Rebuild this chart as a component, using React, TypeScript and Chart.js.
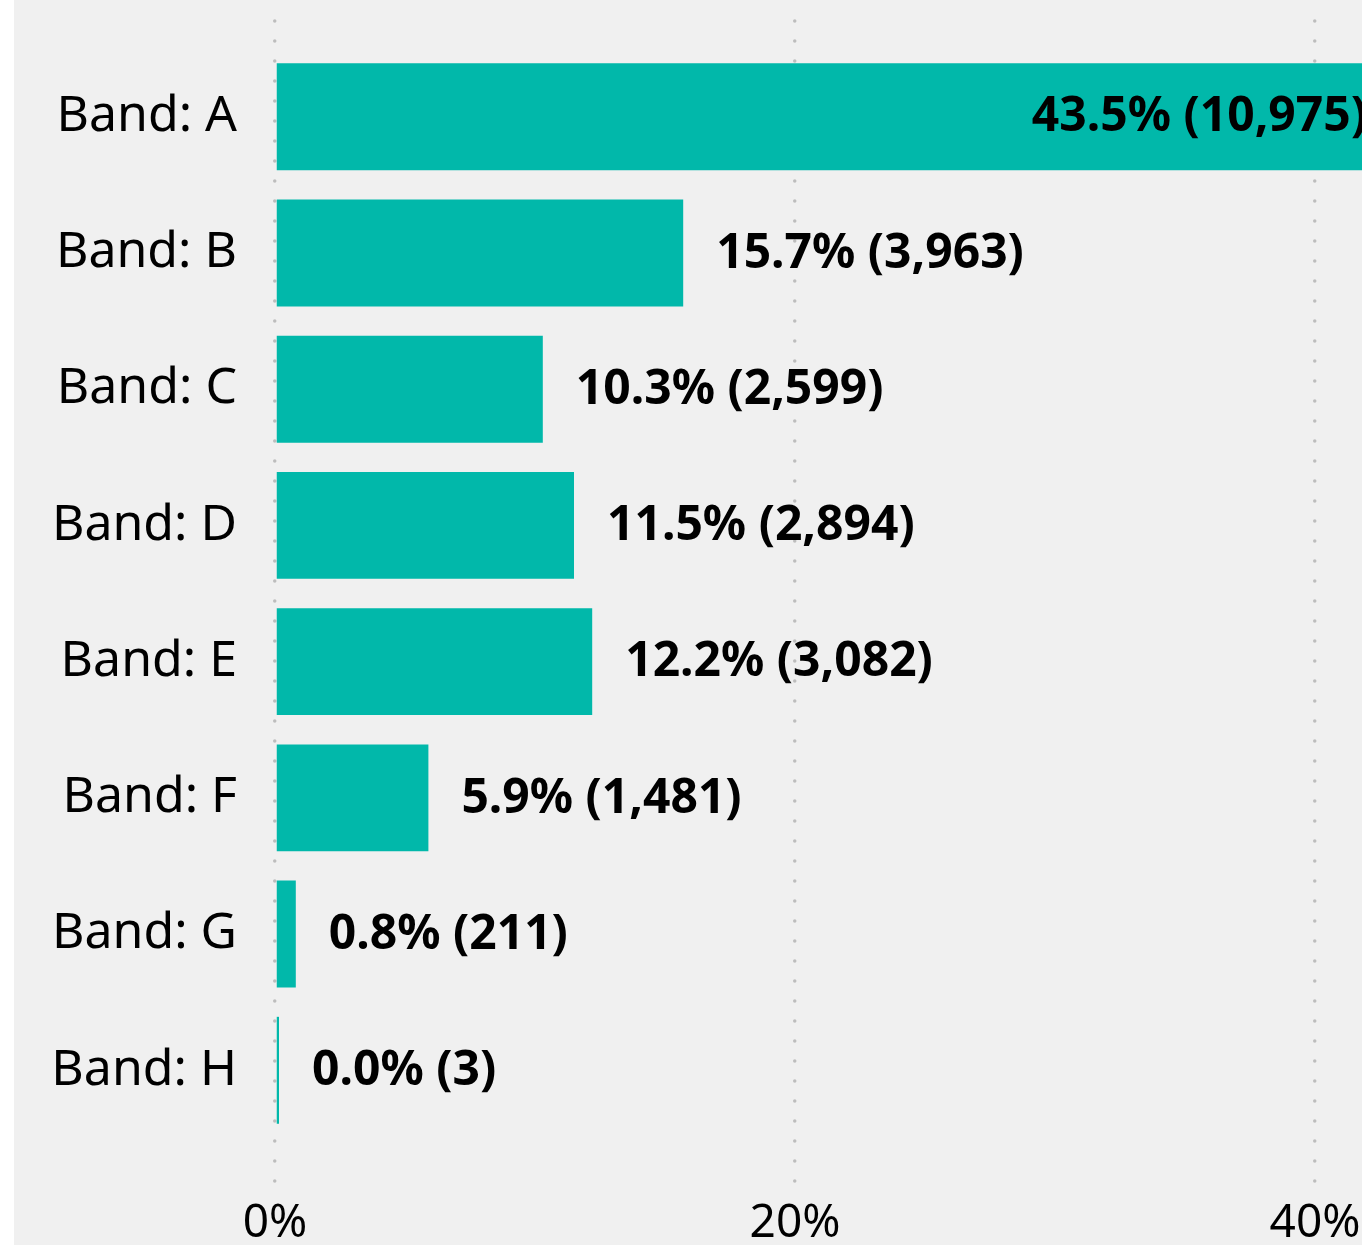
import React, { useEffect, useRef } from "react";
import { Chart, registerables } from "chart.js";

Chart.register(...registerables);

const categories = ["Band: A", "Band: B", "Band: C", "Band: D", "Band: E", "Band: F", "Band: G", "Band: H"];
const percentValues = [43.5, 15.7, 10.3, 11.5, 12.2, 5.9, 0.8, 0.0];
const countValues = [10975, 3963, 2599, 2894, 3082, 1481, 211, 3];
const xTickValues = [0, 20, 40];

const FONT = '"Noto Sans", "Open Sans", sans-serif';
const BAR_COLOR = "#01B8AA";

const labelPlugin = {
  id: "barLabels",
  afterDatasetsDraw(chart: any) {
    const ctx = chart.ctx;
    const meta = chart.getDatasetMeta(0);
    ctx.save();
    ctx.font = `bold 48px ${FONT}`;
    ctx.fillStyle = "#000";
    ctx.textBaseline = "middle";
    meta.data.forEach((bar: any, i: number) => {
      const text = `${percentValues[i].toFixed(1)}% (${countValues[i].toLocaleString("en-US")})`;
      const w = ctx.measureText(text).width;
      const gap = 33;
      const inside = bar.x + gap + w > chart.chartArea.right;
      if (inside) {
        ctx.textAlign = "right";
        ctx.fillText(text, bar.x - 39, bar.y + 1);
      } else {
        ctx.textAlign = "left";
        ctx.fillText(text, bar.x + gap, bar.y + 1);
      }
    });
    ctx.restore();
  },
};

const roundCapPlugin = {
  id: "roundCap",
  beforeDraw(chart: any) {
    chart.ctx.lineCap = "round";
  },
};

export default function App() {
  const ref = useRef<HTMLCanvasElement>(null);
  useEffect(() => {
    if (!ref.current) return;
    const chart = new Chart(ref.current, {
      type: "bar",
      data: {
        datasets: [
          {
            data: categories.map((_, i) => ({ x: percentValues[i], y: i })) as any,
            backgroundColor: BAR_COLOR,
            borderWidth: 0,
            barPercentage: 0.785,
            categoryPercentage: 1,
            minBarLength: 4,
          },
        ],
      },
      options: {
        indexAxis: "y",
        responsive: false,
        animation: false,
        devicePixelRatio: 1,
        layout: { padding: { top: 20, right: 20, left: 0, bottom: 0 } },
        plugins: { legend: { display: false }, tooltip: { enabled: false } },
        scales: {
          x: {
            type: "linear",
            position: "bottom",
            min: 0,
            max: 50,
            offset: false,
            afterBuildTicks: (s: any) => {
              s.ticks = xTickValues.map((v) => ({ value: v }));
            },
            ticks: {
              callback: (v: any) => `${v}%`,
              font: { family: FONT, size: 46 },
              color: "#000",
              padding: 14,
              maxRotation: 0,
              autoSkip: false,
            },
            grid: { color: "#bdbdbd", lineWidth: 3.5, drawTicks: false, offset: false },
            border: { display: false, dash: [0.1, 19.9], dashOffset: -1 },
            afterFit: (s: any) => {
              s.height = 63;
              s.paddingLeft = 0;
              s.paddingRight = 0;
            },
          },
          y: {
            type: "linear",
            reverse: true,
            min: -0.71,
            max: 7.82,
            offset: false,
            afterBuildTicks: (s: any) => {
              s.ticks = categories.map((_, i) => ({ value: i }));
            },
            ticks: {
              autoSkip: false,
              callback: (v: any) => categories[v] ?? "",
              font: { family: FONT, size: 50 },
              color: "#000",
              padding: 38,
            },
            grid: { display: false, drawTicks: false, offset: false },
            border: { display: false },
            afterFit: (s: any) => {
              s.width = 261;
              s.paddingTop = 0;
              s.paddingBottom = 0;
            },
          },
        },
      } as any,
      plugins: [roundCapPlugin, labelPlugin],
    });
    return () => chart.destroy();
  }, []);

  return (
    <div
      style={{
        position: "absolute",
        left: 14,
        top: 0,
        width: 1348,
        height: 1245,
        overflow: "hidden",
        background: "#f0f0f0",
      }}
    >
      <canvas ref={ref} width={1581} height={1245} style={{ display: "block", width: 1581, height: 1245 }} />
    </div>
  );
}
